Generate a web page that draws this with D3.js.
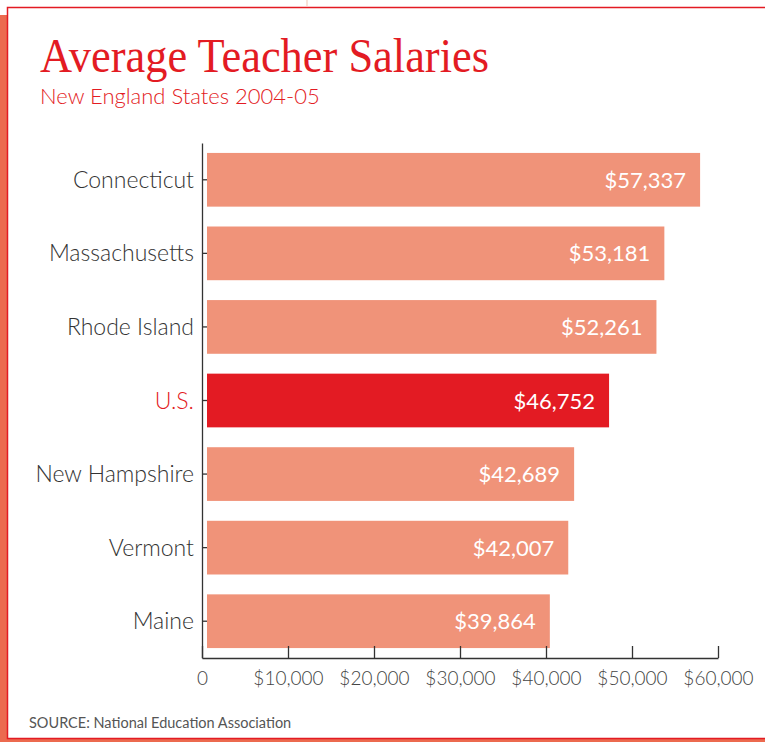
<!DOCTYPE html>
<html>
<head>
<meta charset="utf-8">
<style>
body { margin: 0; background: #fff; }
text { font-family: Lato, "Open Sans", sans-serif; }
.cat { font-size: 23px; font-weight: 300; fill: #333; }
.val { font-size: 22px; fill: #fff; }
.tick text { font-size: 19px; fill: #444; }
</style>
</head>
<body>
<script src="https://cdn.jsdelivr.net/npm/d3@7"></script>
<script>

var states = ["Connecticut", "Massachusetts", "Rhode Island", "U.S.", "New Hampshire", "Vermont", "Maine"];
var salaries = [57337, 53181, 52261, 46752, 42689, 42007, 39864];
var xTicks = [0, 10000, 20000, 30000, 40000, 50000, 60000];

var width = 765, height = 742;
var red = "#e31b23", salmon = "#f09379", strip = "#ec6a4f";

var svg = d3.select("body").append("svg")
    .attr("width", width)
    .attr("height", height);

// frame
svg.append("rect").attr("x", 0).attr("y", 15).attr("width", 7).attr("height", height - 15).attr("fill", strip);
svg.append("rect").attr("x", 0).attr("y", 739).attr("width", width).attr("height", 3).attr("fill", strip);
svg.append("line").attr("x1", 307).attr("x2", 307).attr("y1", 0).attr("y2", 6)
    .attr("stroke", "#f6d8cc").attr("stroke-width", 1.5);
svg.append("path")
    .attr("d", "M765,7.5H7.5V738.5H765")
    .attr("fill", "none")
    .attr("stroke", red)
    .attr("stroke-width", 1.5);

// titles
svg.append("text")
    .attr("x", 40).attr("y", 72)
    .style("font-family", "'Liberation Serif', 'DejaVu Serif', serif")
    .style("font-size", "49px")
    .attr("fill", red)
    .attr("textLength", 449)
    .attr("lengthAdjust", "spacingAndGlyphs")
    .text("Average Teacher Salaries");

svg.append("text")
    .attr("x", 40).attr("y", 104)
    .style("font-size", "22px")
    .style("font-weight", 300)
    .attr("fill", red)
    .text("New England States 2004-05");

var x0 = 202;
var x = d3.scaleLinear().domain([0, 60000]).range([x0, 718]);
var y = d3.scaleBand().domain(states).range([143, 658]).paddingInner(0.27).paddingOuter(0.135);

var barOffset = 5;

svg.append("g")
    .selectAll("rect")
    .data(states)
    .enter()
    .append("rect")
    .attr("x", x0 + barOffset)
    .attr("y", function(d) { return y(d); })
    .attr("height", y.bandwidth())
    .attr("width", function(d, i) { return x(salaries[i]) - x0; })
    .attr("fill", function(d) { return d == "U.S." ? red : salmon; });

svg.append("g")
    .selectAll("text")
    .data(states)
    .enter()
    .append("text")
    .attr("class", "val")
    .attr("text-anchor", "end")
    .attr("x", function(d, i) { return x(salaries[i]) + barOffset - 14; })
    .attr("y", function(d) { return y(d) + y.bandwidth() / 2 + 8; })
    .text(function(d, i) { return "$" + d3.format(",")(salaries[i]); });

// axes
var yAxis = svg.append("g")
    .attr("transform", "translate(" + x0 + ",0)")
    .call(d3.axisRight(y).tickSize(5).tickSizeOuter(0).tickFormat(""));
yAxis.select(".domain").attr("stroke", "#333").attr("stroke-width", 1.3);
yAxis.selectAll(".tick line").attr("stroke", "#333").attr("stroke-width", 1.3);

svg.append("g")
    .selectAll("text")
    .data(states)
    .enter()
    .append("text")
    .attr("class", "cat")
    .attr("text-anchor", "end")
    .attr("x", 194)
    .attr("y", function(d) { return y(d) + y.bandwidth() / 2 + 8; })
    .style("fill", function(d) { return d == "U.S." ? red : null; })
    .text(function(d) { return d; });

var xAxis = svg.append("g")
    .attr("transform", "translate(0,658)")
    .call(d3.axisTop(x).tickValues(xTicks).tickSize(12).tickSizeOuter(0)
        .tickFormat(function(d) { return d == 0 ? "0" : "$" + d3.format(",")(d); }));
xAxis.select(".domain").attr("stroke", "#333").attr("stroke-width", 1.3);
xAxis.selectAll(".tick line").attr("stroke", "#333").attr("stroke-width", 1.3);
xAxis.selectAll(".tick text")
    .attr("y", 27)
    .attr("dy", 0)
    .style("font-family", "Lato, sans-serif")
    .style("font-weight", 300);

svg.append("text")
    .attr("x", 29).attr("y", 728)
    .style("font-size", "14.5px")
    .attr("fill", "#555")
    .text("SOURCE: National Education Association");

</script>
</body>
</html>
